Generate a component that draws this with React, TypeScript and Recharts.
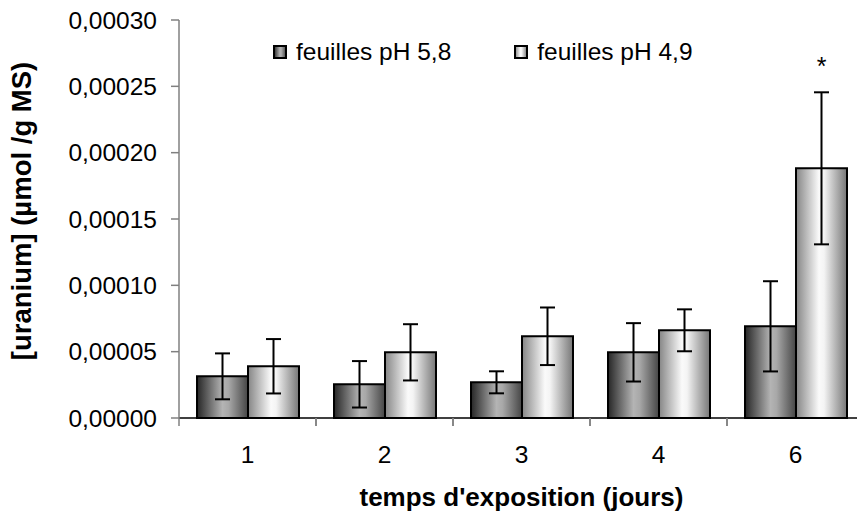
import { BarChart, Bar, XAxis, YAxis, ErrorBar, LabelList, Legend } from "recharts"

const days = ["1", "2", "3", "4", "6"]
const ph58 = [0.0000314, 0.0000254, 0.0000269, 0.0000495, 0.0000691]
const ph58Err = [0.0000173, 0.0000175, 0.0000083, 0.000022, 0.000034]
const ph49 = [0.000039, 0.0000495, 0.0000616, 0.0000661, 0.0001882]
const ph49Err = [0.0000205, 0.0000212, 0.0000217, 0.0000158, 0.0000573]
const signif = ["", "", "", "", "*"]
const yTicks = [0, 0.00005, 0.0001, 0.00015, 0.0002, 0.00025, 0.0003]

const FONT = "'Liberation Sans', Arial, sans-serif"

const data = days.map((d, i) => ({
  day: d,
  ph58: ph58[i],
  err58: ph58Err[i],
  ph49: ph49[i],
  err49: ph49Err[i],
  sig: signif[i],
}))

const fmt = (v: number) => v.toFixed(5).replace(".", ",")

function DayTick(props: any) {
  const { x, y, payload } = props
  const half = payload?.offset ?? 68.5
  return (
    <g>
      <line x1={x - half} x2={x - half} y1={y - 8} y2={y} stroke="#808080" strokeWidth={1.5} />
      <line x1={x + half} x2={x + half} y1={y - 8} y2={y} stroke="#808080" strokeWidth={1.5} />
      <text x={x} y={y + 37} textAnchor="middle" fontSize={24.5} fontFamily={FONT} fill="#000">
        {payload.value}
      </text>
    </g>
  )
}

function Star(props: any) {
  const { x, y, width, height, value, index } = props
  if (!value) return null
  const errTop = y - (ph49Err[index] * height) / ph49[index]
  return (
    <text x={x + width / 2} y={errTop - 17} textAnchor="middle" fontSize={25} fontFamily={FONT} fill="#000">
      {value}
    </text>
  )
}

function LegendBox() {
  const item = (grad: string, label: string, ml: number) => (
    <div style={{ display: "flex", alignItems: "center", marginLeft: ml }}>
      <svg width={14} height={14} style={{ display: "block" }}>
        <rect x={1} y={1} width={12} height={12} fill={`url(#${grad})`} stroke="#000" strokeWidth={2} />
      </svg>
      <span style={{ marginLeft: 9 }}>{label}</span>
    </div>
  )
  return (
    <div style={{ display: "flex", alignItems: "center", fontFamily: FONT, fontSize: 24.5, color: "#000", lineHeight: "28px" }}>
      {item("gDark", "feuilles pH 5,8", 0)}
      {item("gLight", "feuilles pH 4,9", 63)}
    </div>
  )
}

function YTitle(props: any) {
  const vb = props.viewBox
  const cx = vb.x + 21
  const cy = vb.y + vb.height / 2 - 8
  return (
    <text x={cx} y={cy} transform={`rotate(-90 ${cx} ${cy})`} textAnchor="middle" dominantBaseline="central"
      fontSize={27.5} fontWeight="bold" fontFamily={FONT} fill="#000">
      [uranium] (µmol /g MS)
    </text>
  )
}

function XTitle(props: any) {
  const vb = props.viewBox
  return (
    <text x={vb.x + vb.width / 2} y={vb.y + 79} textAnchor="middle" dominantBaseline="central"
      fontSize={26} fontWeight="bold" fontFamily={FONT} fill="#000">
      temps d'exposition (jours)
    </text>
  )
}

export default function App() {
  return (
    <div style={{ position: "absolute", left: 0, top: 0, width: 857, height: 520, overflow: "hidden", background: "#fff" }}>
      <BarChart width={870} height={520} data={data} margin={{ top: 20, right: 6, left: 0, bottom: 0 }}
        barCategoryGap={18} barGap={0}>
        <defs>
          <linearGradient id="gDark" x1="0" y1="0" x2="1" y2="0">
            <stop offset="0%" stopColor="#262626" />
            <stop offset="50%" stopColor="#b4b4b4" />
            <stop offset="62%" stopColor="#a8a8a8" />
            <stop offset="100%" stopColor="#454545" />
          </linearGradient>
          <linearGradient id="gLight" x1="0" y1="0" x2="1" y2="0">
            <stop offset="0%" stopColor="#858585" />
            <stop offset="45%" stopColor="#fafafa" />
            <stop offset="55%" stopColor="#f4f4f4" />
            <stop offset="100%" stopColor="#767676" />
          </linearGradient>
        </defs>
        <XAxis dataKey="day" height={102} axisLine={{ stroke: "#000", strokeWidth: 1.5 }} tickLine={false}
          tickSize={8} tickMargin={0} tick={<DayTick />} interval={0} label={<XTitle />} />
        <YAxis width={179} domain={[0, 0.0003]} ticks={yTicks} tickFormatter={fmt} interval={0}
          axisLine={{ stroke: "#808080", strokeWidth: 1.5 }} tickLine={{ stroke: "#808080", strokeWidth: 1.5 }}
          tickSize={8} tickMargin={14} tick={{ fontSize: 24.5, fontFamily: FONT, fill: "#000" }} label={<YTitle />} />
        <Legend verticalAlign="middle" align="center" content={<LegendBox />}
          wrapperStyle={{ position: "absolute", top: 38, left: 273, width: "auto" }} />
        <Bar dataKey="ph58" name="feuilles pH 5,8" fill="url(#gDark)" stroke="#000" strokeWidth={2} isAnimationActive={false}>
          <ErrorBar dataKey="err58" width={7.5} stroke="#000" strokeWidth={2} />
        </Bar>
        <Bar dataKey="ph49" name="feuilles pH 4,9" fill="url(#gLight)" stroke="#000" strokeWidth={2} isAnimationActive={false}>
          <ErrorBar dataKey="err49" width={7.5} stroke="#000" strokeWidth={2} />
          <LabelList dataKey="sig" content={<Star />} />
        </Bar>
      </BarChart>
    </div>
  )
}
